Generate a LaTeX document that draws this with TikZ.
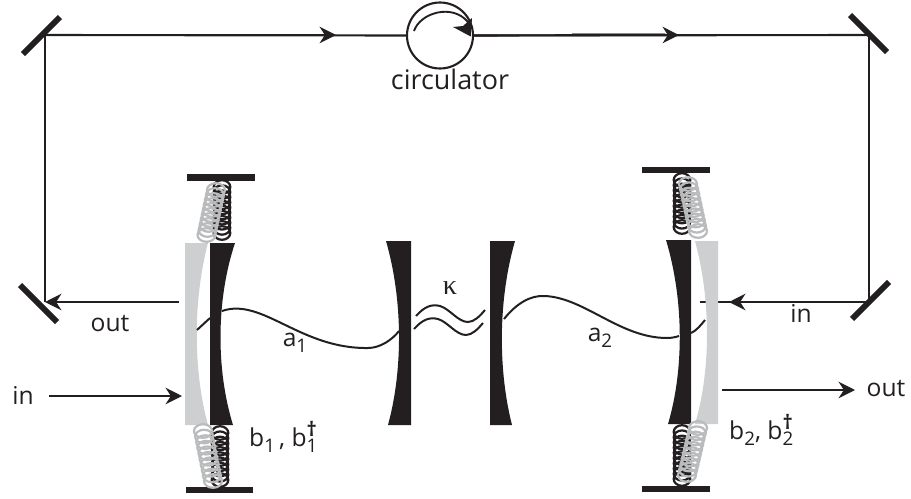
\documentclass[tikz,border=0pt]{standalone}
\usepackage{fontspec}
\setmainfont{Open Sans}
\newfontfamily\kappafont{Liberation Serif}
\usetikzlibrary{arrows.meta}
\definecolor{ink}{HTML}{231F20}
\definecolor{pale}{HTML}{CDCFD1}
\definecolor{mid}{HTML}{B9BBBD}
\tikzset{
  beam/.style={draw=ink,line width=1.8pt},
  ray/.style={beam,-{Stealth[length=14pt,width=14pt,inset=4.5pt]}},
  wave/.style={draw=ink,line width=1.7pt},
  mirror/.style={draw=ink,line width=5pt},
  plate/.style={fill=ink},
  label/.style={text=ink,font=\fontsize{21}{24}\selectfont,inner sep=0pt},
}
\newcommand{\coil}[6]{% x1,y1,x2,y2,colour,radius
  \foreach \i in {0,...,9}{
    \pgfmathsetmacro{\cx}{#1+(#3-#1)*\i/9}
    \pgfmathsetmacro{\cy}{#2+(#4-#2)*\i/9}
    \draw[#5,line width=1.9pt] (\cx,\cy) ellipse [x radius=#6,y radius=6.8];
  }}
\newcommand{\lowered}[1]{\raisebox{-5pt}{\fontsize{16}{18}\selectfont #1}}
\newcommand{\dagged}[1]{\rlap{\raisebox{-5pt}{\fontsize{16}{18}\selectfont #1}}\raisebox{9pt}{\fontsize{17}{18}\selectfont\bfseries †}}
\begin{document}
\begin{tikzpicture}[x=0.03cm,y=-0.03cm]
\useasboundingbox (0,0) rectangle (911,499);
\coordinate (tl) at (45,35);
\coordinate (tr) at (869,35);
\coordinate (bl) at (45,302);
\coordinate (br) at (869,302);
% mirrors
\draw[mirror] (23,54) -- (60,17);
\draw[mirror] (850,15) -- (887,52);
\draw[mirror] (20,285) -- (57,322);
\draw[mirror] (852,319) -- (889,282);
% circulator
\node[circle,draw=ink,line width=1.8pt,minimum size=66*0.03cm,inner sep=0pt] (circ) at (440,35.5) {};
\draw[ink,line width=1.6pt] (414,31) .. controls (420,13) and (452,3) .. (468,22);
\fill[ink] (470.7,36.5) -- (453,27) -- (463,26) -- (472,18) -- cycle;
\node[label,font=\fontsize{23}{26}\selectfont] (circlabel) at (450,79) {circulator};
% beams
\coordinate (a1) at (336,35);
\coordinate (a2) at (679,35);
\draw[beam] (tl) -- (circ.west);
\draw[ray] (tl) -- (a1);
\draw[beam] (circ.east) -- (tr);
\draw[ray] (circ.east) -- (a2);
\coordinate (g0) at (572,33.5);
\coordinate (g1) at (665,33.5);
\draw[mid!70!ink,line width=0.8pt] (g0) -- (g1);
\draw[beam] (tl) -- (bl);
\draw[beam] (tr) -- (br);
\coordinate (oute0) at (179,302);
\draw[ray] (oute0) -- (bl);
\coordinate (ine) at (729,302);
\coordinate (ine0) at (700,302);
\draw[beam] (br) -- (ine0);
\draw[ray] (br) -- (ine);
\coordinate (in0) at (49,396);
\coordinate (in1) at (182,396);
\draw[ray] (in0) -- (in1);
\coordinate (o0) at (722,390);
\coordinate (o1) at (855,390);
\draw[ray] (o0) -- (o1);
% gray plates
\fill[pale] (185,243) -- (208,243) .. controls (193,300) and (193,370) .. (208,425) -- (185,425) -- cycle;
\fill[pale] (718,241) -- (695,241) .. controls (711,300) and (711,370) .. (695,424) -- (718,424) -- cycle;
% black mirrors
\fill[ink] (210,243) -- (235,243) .. controls (216,300) and (216,370) .. (233,425) -- (210,425) -- cycle;
\fill[ink] (691,240) -- (666,240) .. controls (684,300) and (684,370) .. (668,424) -- (691,424) -- cycle;
\fill[ink] (411,241) -- (386,241) .. controls (403,300) and (403,370) .. (388,425) -- (411,425) -- cycle;
\fill[ink] (490,241) -- (515,241) .. controls (498,300) and (498,370) .. (512,425) -- (490,425) -- cycle;
% waves
\draw[wave] (197,330) -- (210,318);
\draw[wave] (222,311) .. controls (262,297) and (300,349) .. (368,348) .. controls (380,348) and (392,340) .. (399,331);
\draw[wave] (416,316) .. controls (425,306) and (432,304) .. (440,306) .. controls (450,309) and (458,322) .. (468,322) .. controls (474,322) and (480,316) .. (485,310);
\draw[wave] (414,329) .. controls (423,319) and (430,317) .. (438,319) .. controls (448,322) and (456,335) .. (466,335) .. controls (472,335) and (478,329) .. (483,323);
\draw[wave] (504,319) .. controls (516,304) and (530,295) .. (545,296) .. controls (585,298) and (620,338) .. (667,338) .. controls (672,338) and (676,337) .. (679,336);
\draw[wave] (691,333) .. controls (696,331) and (701,325) .. (705,320);
% springs
\fill[plate] (187,174) rectangle (255,181);
\coil{222}{187}{222}{233}{ink}{8.3}
\coil{216}{190}{206.5}{235}{mid}{9}
\fill[plate] (186,487) rectangle (253,493);
\coil{220}{433}{220}{480}{ink}{8.3}
\coil{203}{431}{213}{481}{mid}{9}
\fill[plate] (642,167) rectangle (710,173);
\coil{682}{180}{682}{227}{ink}{8.3}
\coil{688}{184}{698}{231}{mid}{9}
\fill[plate] (642,486) rectangle (710,492);
\coil{682}{432}{682}{479}{ink}{8.3}
\coil{698}{428}{687}{475}{mid}{9}
% labels
\node[label] (lout1) at (110,324) {out};
\node[label] (lin1) at (23,395) {in};
\node[label] (lin2) at (801,313) {in};
\node[label] (lout2) at (886,389) {out};
\node[label] (la1) at (295,343) {a\lowered{1}};
\node[label] (la2) at (600,338) {a\lowered{2}};
\node[label,anchor=west] (lb1) at (249,437) {b\lowered{1}\,, b\dagged{1}};
\node[label,anchor=west] (lb2) at (729,430) {b\lowered{2}, b\dagged{2}};
\node[label,font=\fontsize{24}{26}\selectfont\kappafont] (lk) at (450,288) {κ};
\end{tikzpicture}
\end{document}
